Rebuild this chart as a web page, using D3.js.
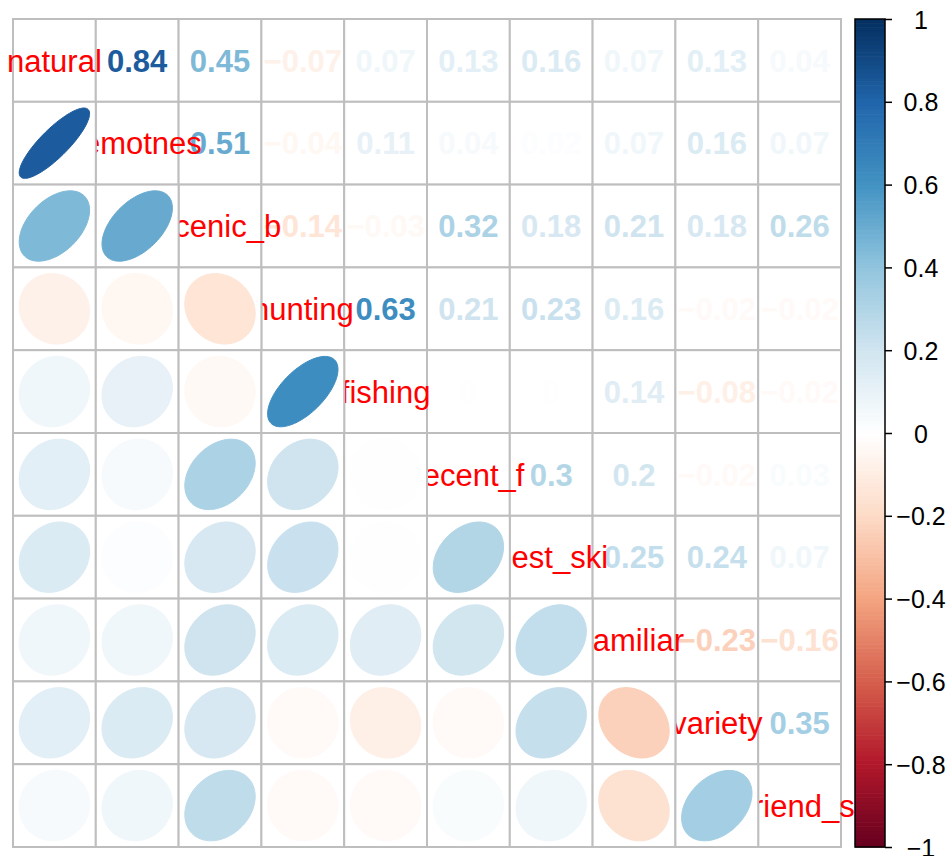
<!DOCTYPE html>
<html>
<head>
<meta charset="utf-8">
<script src="https://cdn.jsdelivr.net/npm/d3@7"></script>
<style>
  html, body { margin: 0; padding: 0; background: #fff; }
  svg { display: block; font-family: "Liberation Sans", Arial, sans-serif; }
</style>
</head>
<body>
<svg id="chart" width="952" height="856"></svg>
<script>
// Variable names shown on the diagonal
const variables = ["natural", "remotnes", "scenic_b", "hunting", "fishing",
                   "recent_f", "best_ski", "familiar", "variety", "friend_s"];

// Upper-triangle correlations, row by row (row i holds r[i][j] for j > i)
const upperRows = [
  [0.84, 0.45, -0.07, 0.07, 0.13, 0.16, 0.07, 0.13, 0.04],
  [0.51, -0.04, 0.11, 0.04, 0.02, 0.07, 0.16, 0.07],
  [-0.14, -0.03, 0.32, 0.18, 0.21, 0.18, 0.26],
  [0.63, 0.21, 0.23, 0.16, -0.02, -0.02],
  [0, 0, 0.14, -0.08, -0.02],
  [0.3, 0.2, -0.02, 0.03],
  [0.25, 0.24, 0.07],
  [-0.23, -0.16],
  [0.35]
];

// Colour-bar tick values
const legendTicks = [-1, -0.8, -0.6, -0.4, -0.2, 0, 0.2, 0.4, 0.6, 0.8, 1];

// Diverging red-white-blue palette anchors
const paletteColors = ["#67001F", "#B2182B", "#D6604D", "#F4A582", "#FDDBC7", "#FFFFFF",
                       "#D1E5F0", "#92C5DE", "#4393C3", "#2166AC", "#053061"];

// Build full symmetric matrix
const n = variables.length;
const corr = variables.map(() => new Array(n).fill(1));
upperRows.forEach((row, i) => {
  row.forEach((v, k) => {
    const j = i + 1 + k;
    corr[i][j] = v;
    corr[j][i] = v;
  });
});

const svg = d3.select("#chart");

const gridLeft = 13, gridTop = 19, gridSize = 828;
const x = d3.scaleBand().domain(variables).range([gridLeft, gridLeft + gridSize]).padding(0);
const y = d3.scaleBand().domain(variables).range([gridTop, gridTop + gridSize]).padding(0);
const bw = x.bandwidth();

// Continuous ramp through the anchors, sampled into 200 discrete colours
const ramp = d3.scaleLinear()
  .domain(d3.range(11).map(i => i / 10))
  .range(paletteColors)
  .interpolate(d3.interpolateRgb);
const nColors = 200;
const palette = d3.range(nColors).map(i => ramp(i / (nColors - 1)));
// Bin a value in [-1, 1] into one of the 200 colours
const color = v => {
  const idx = Math.min(nColors, Math.max(1, Math.ceil(((v + 1) / 2) * nColors - 1e-9)));
  return palette[idx - 1];
};

const fmt = v => (v < 0 ? "\u2212" : "") + String(Math.abs(v));

const cells = [];
for (let i = 0; i < n; i++) for (let j = 0; j < n; j++) {
  cells.push({ i, j, row: variables[i], col: variables[j], v: corr[i][j] });
}

const gridColor = "#BEBEBE";
const fontSize = 31;

// Upper triangle and diagonal: cell backgrounds
svg.append("g").selectAll("rect")
  .data(cells.filter(c => c.j >= c.i))
  .join("rect")
  .attr("x", d => x(d.col)).attr("y", d => y(d.row))
  .attr("width", bw).attr("height", bw)
  .attr("fill", "#fff").attr("stroke", gridColor).attr("stroke-width", 2);

// Upper triangle: coloured numbers
svg.append("g").selectAll("text")
  .data(cells.filter(c => c.j > c.i))
  .join("text")
  .attr("x", d => x(d.col) + bw / 2)
  .attr("y", d => y(d.row) + bw / 2)
  .attr("dy", "0.36em")
  .attr("text-anchor", "middle")
  .attr("font-size", fontSize)
  .attr("font-weight", "bold")
  .attr("fill", d => color(d.v))
  .text(d => fmt(d.v));

// Diagonal labels
svg.append("g").selectAll("text")
  .data(variables)
  .join("text")
  .attr("x", d => x(d) + bw / 2)
  .attr("y", d => y(d) + bw / 2)
  .attr("dy", "0.36em")
  .attr("text-anchor", "middle")
  .attr("font-size", fontSize)
  .attr("fill", "#FF0000")
  .text(d => d);

// Lower triangle: cell backgrounds drawn over the labels
const lower = cells.filter(c => c.j < c.i);
svg.append("g").selectAll("rect")
  .data(lower)
  .join("rect")
  .attr("x", d => x(d.col)).attr("y", d => y(d.row))
  .attr("width", bw).attr("height", bw)
  .attr("fill", "#fff").attr("stroke", gridColor).attr("stroke-width", 2);

// Ellipse outline for a correlation value, in unit-cell coordinates
function ellipsePoints(rho, count = 99) {
  const a = Math.acos(rho);
  return d3.range(count).map(t => {
    const k = (2 * Math.PI * t) / (count - 1);
    return [0.85 * Math.cos(k + a / 2) / 2, 0.85 * Math.cos(k - a / 2) / 2];
  });
}

svg.append("g").selectAll("path")
  .data(lower)
  .join("path")
  .attr("d", d => {
    const cx = x(d.col) + bw / 2, cy = y(d.row) + bw / 2;
    const pts = ellipsePoints(d.v).map(([ex, ey]) => [cx + ex * bw, cy - ey * bw]);
    return d3.line()(pts) + "Z";
  })
  .attr("fill", d => color(d.v))
  .attr("stroke", d => color(d.v))
  .attr("stroke-width", 1);

// Colour legend
const barX = 855, barW = 30;
const ly = d3.scaleLinear().domain([-1, 1]).range([gridTop + gridSize, gridTop]);

svg.append("g").selectAll("rect")
  .data(palette)
  .join("rect")
  .attr("x", barX)
  .attr("y", (d, i) => ly(-1 + (2 * (i + 1)) / nColors))
  .attr("width", barW)
  .attr("height", (ly(-1) - ly(1)) / nColors + 0.6)
  .attr("fill", d => d);

svg.append("rect")
  .attr("x", barX).attr("y", ly(1))
  .attr("width", barW).attr("height", ly(-1) - ly(1))
  .attr("fill", "none")
  .attr("stroke", "#000").attr("stroke-width", 1.5);

const axis = d3.axisRight(ly)
  .tickValues(legendTicks)
  .tickSize(7)
  .tickFormat(fmt);

const gAxis = svg.append("g")
  .attr("transform", `translate(${barX + barW},0)`)
  .call(axis);
gAxis.select(".domain").remove();
gAxis.selectAll(".tick line").attr("stroke", "#000").attr("stroke-width", 1.5);
gAxis.selectAll(".tick text")
  .attr("x", 36)
  .attr("dy", "0.36em")
  .attr("text-anchor", "middle")
  .attr("font-size", 25)
  .attr("font-family", "Liberation Sans, Arial, sans-serif")
  .attr("fill", "#000");
</script>
</body>
</html>
